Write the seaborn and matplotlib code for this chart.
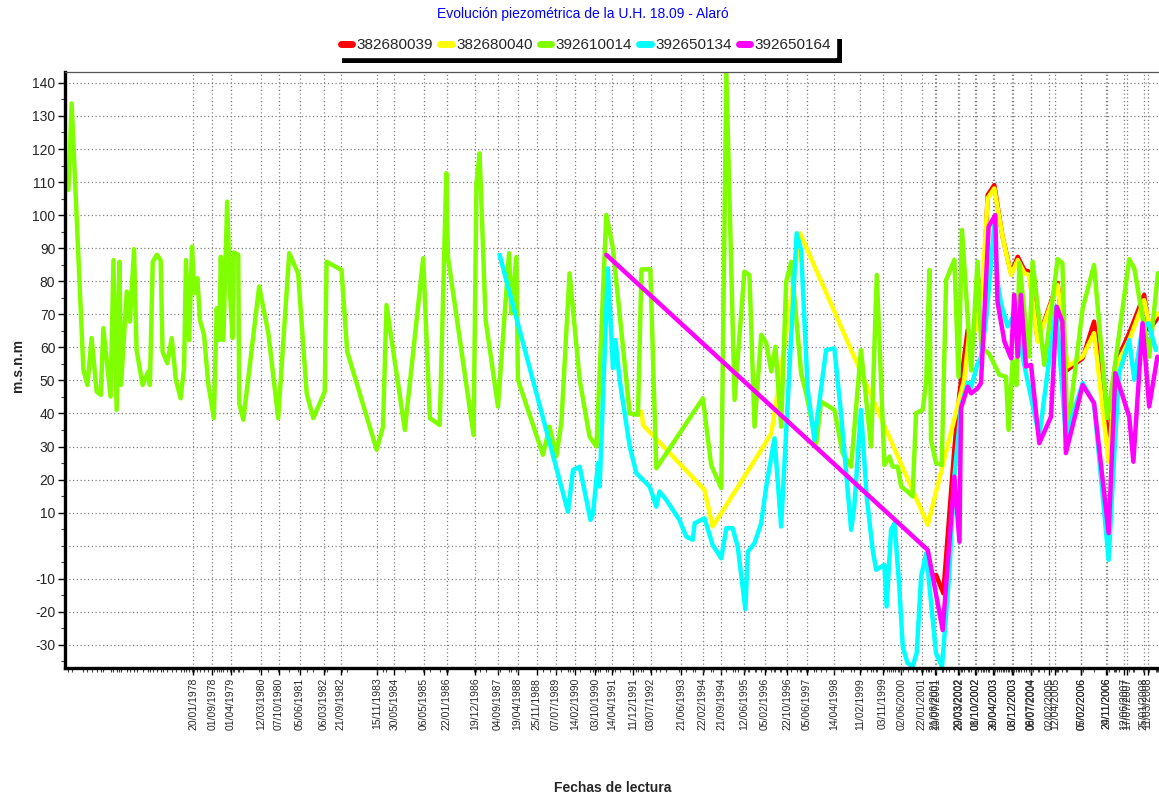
import datetime
import numpy as np
import pandas as pd
import matplotlib
matplotlib.use("Agg")
import matplotlib.pyplot as plt
import seaborn as sns
from matplotlib.lines import Line2D
from matplotlib.patches import Rectangle
from matplotlib.ticker import FixedLocator, MultipleLocator
from matplotlib.transforms import IdentityTransform

sns.set_style("white")
plt.rcParams['font.family'] = ['Liberation Sans', 'DejaVu Sans']

# ---------------- data (decimal year, m.s.n.m) ----------------
names = ["382680039", "382680040", "392610014", "392650134", "392650164"]
colors = ["#FF0000", "#FFFF00", "#80FF00", "#00FFFF", "#FF00FF"]

x_382680039 = [2001.51, 2001.74, 2002.09, 2002.25, 2002.40, 2002.51, 2002.62, 2002.77, 2002.93, 2003.03,
               2003.14, 2003.35, 2003.61, 2003.88, 2004.09, 2004.30, 2004.45, 2004.72, 2005.35, 2005.66,
               2006.14, 2006.50, 2006.96, 2007.17, 2007.61, 2008.08, 2008.24, 2008.50]
y_382680039 = [-8.8, -14.4, 29.5, 46, 57.2, 65.3, 63.8, 65.8, 78.4, 82.4,
               106.1, 109.1, 93.5, 82.4, 87.4, 83.4, 82.9, 62.2, 79.5, 53.2,
               56.7, 67.8, 30, 55, 64.3, 75.9, 65.3, 68.8]

x_382680040 = [1992.21, 1992.26, 1994.20, 1994.46, 1995.83, 1996.31, 1996.57, 1997.22, 2001.25, 2002.40,
               2002.56, 2002.77, 2002.98, 2003.14, 2003.35, 2003.61, 2003.88, 2004.09, 2004.30, 2004.45,
               2004.72, 2005.35, 2005.66, 2006.14, 2006.50, 2006.96, 2007.19, 2007.61, 2008.08, 2008.24,
               2008.50]
y_382680040 = [40.6, 36.5, 16.9, 5.8, 26.5, 34, 50, 94.5, 6.3, 50.2,
               64.3, 65.3, 79.4, 105.1, 108.1, 93.5, 81.9, 86.4, 82.4, 81.9,
               61.7, 78.9, 54.2, 57.2, 64.3, 25.4, 54.2, 62.2, 74.3, 66.8,
               70.3]

x_392610014 = [1974.12, 1974.22, 1974.59, 1974.72, 1974.85, 1975.01, 1975.14, 1975.22, 1975.45, 1975.54,
               1975.64, 1975.73, 1975.78, 1975.96, 1976.06, 1976.19, 1976.27, 1976.46, 1976.64, 1976.69,
               1976.78, 1976.91, 1977.03, 1977.09, 1977.24, 1977.38, 1977.51, 1977.66, 1977.77, 1977.83,
               1977.93, 1978.02, 1978.09, 1978.19, 1978.27, 1978.40, 1978.53, 1978.71, 1978.80, 1978.88,
               1978.93, 1979.01, 1979.13, 1979.22, 1979.30, 1979.34, 1979.48, 1979.51, 1979.64, 1980.14,
               1980.43, 1980.74, 1981.09, 1981.37, 1981.64, 1981.85, 1982.21, 1982.27, 1982.74, 1982.92,
               1983.85, 1984.05, 1984.16, 1984.74, 1985.32, 1985.53, 1985.84, 1986.05, 1986.10, 1986.91,
               1987.00, 1987.10, 1987.29, 1987.68, 1988.03, 1988.10, 1988.26, 1988.31, 1989.10, 1989.31,
               1989.52, 1989.68, 1989.94, 1990.26, 1990.57, 1990.79, 1991.10, 1991.31, 1991.84, 1992.10,
               1992.21, 1992.49, 1992.68, 1994.15, 1994.41, 1994.73, 1994.89, 1995.15, 1995.46, 1995.62,
               1995.78, 1995.99, 1996.15, 1996.31, 1996.44, 1996.62, 1996.78, 1996.94, 1997.25, 1997.41,
               1997.73, 1997.88, 1998.30, 1998.56, 1998.83, 1999.14, 1999.46, 1999.64, 1999.88, 2000.04,
               2000.14, 2000.30, 2000.41, 2000.61, 2000.77, 2000.88, 2001.09, 2001.20, 2001.30, 2001.35,
               2001.51, 2001.69, 2001.83, 2002.09, 2002.22, 2002.33, 2002.62, 2002.82, 2002.94, 2003.19,
               2003.51, 2003.72, 2003.80, 2003.93, 2004.05, 2004.14, 2004.45, 2004.56, 2004.93, 2005.35,
               2005.50, 2005.66, 2006.14, 2006.50, 2006.92, 2007.14, 2007.61, 2007.77, 2008.24, 2008.45,
               2008.52]
y_392610014 = [107.6, 133.8, 53.2, 48.6, 62.8, 46.6, 45.6, 65.8, 45.1, 86.4,
               41.1, 85.9, 48.6, 76.9, 67.8, 89.7, 59.2, 48.6, 52.7, 48.6,
               85.9, 88.0, 86.4, 58.7, 55.2, 62.8, 50.2, 44.6, 53.7, 86.4,
               62.2, 90.5, 76.4, 80.9, 68.3, 63.8, 49.2, 38.6, 71.8, 62.2,
               87.4, 62.2, 104.1, 76.4, 62.8, 88.7, 88.0, 43.1, 38.1, 78.4,
               64.3, 38.6, 88.5, 82.4, 46.1, 38.6, 46.6, 85.9, 83.4, 58.7,
               29.0, 36.0, 72.8, 35.0, 87.0, 38.6, 36.5, 112.7, 87.4, 33.5,
               109.6, 118.7, 68.3, 42.1, 88.5, 70.3, 87.3, 50.2, 27.5, 36.0,
               27.0, 37.0, 82.4, 50.2, 33.0, 30.0, 100.1, 90.0, 40.0, 39.6,
               83.6, 83.6, 23.4, 44.6, 24.4, 17.4, 143.0, 44.1, 82.9, 81.9,
               36.0, 63.8, 61.3, 52.7, 60.2, 36.0, 79.9, 85.9, 52.2, 46.1,
               31.0, 43.6, 41.1, 28.0, 23.9, 59.2, 30.0, 81.9, 24.4, 27.0,
               23.9, 23.9, 17.9, 16.4, 14.9, 40.1, 41.1, 49.6, 83.4, 32.0,
               25.0, 24.4, 80.4, 86.5, 51.1, 95.5, 53.0, 85.9, 60.0, 58.0,
               51.7, 51.1, 35.0, 56.0, 48.6, 85.5, 57.2, 85.9, 54.7, 86.7,
               85.5, 34.0, 71.8, 84.9, 38.6, 53.2, 86.7, 83.9, 57.2, 76.4,
               82.5]

x_392650134 = [1987.73, 1989.89, 1990.05, 1990.26, 1990.60, 1990.68, 1990.84, 1990.89, 1991.15, 1991.31,
               1991.39, 1991.52, 1991.84, 1992.05, 1992.26, 1992.47, 1992.68, 1992.78, 1992.99, 1993.41,
               1993.62, 1993.83, 1993.89, 1994.20, 1994.46, 1994.73, 1994.89, 1995.09, 1995.25, 1995.49,
               1995.57, 1995.78, 1995.99, 1996.15, 1996.41, 1996.62, 1997.11, 1997.25, 1997.46, 1997.67,
               1998.04, 1998.30, 1998.51, 1998.83, 1998.93, 1999.14, 1999.32, 1999.51, 1999.62, 1999.88,
               1999.95, 2000.09, 2000.20, 2000.35, 2000.46, 2000.61, 2000.77, 2000.90, 2001.04, 2001.20,
               2001.51, 2001.70, 2001.93, 2002.09, 2002.30, 2002.51, 2002.62, 2002.82, 2002.93, 2003.09,
               2003.35, 2003.45, 2003.56, 2003.77, 2003.98, 2004.35, 2004.77, 2005.30, 2005.61, 2006.14,
               2006.50, 2006.96, 2007.14, 2007.29, 2007.61, 2007.77, 2008.03, 2008.22, 2008.45]
y_392650134 = [88, 10.3, 22.9, 23.9, 7.8, 9.8, 25, 17.9, 83.9, 53.7,
               62.2, 50.2, 30, 21.9, 19.9, 17.9, 11.8, 16.4, 13.9, 7.8,
               2.8, 1.8, 6.8, 8.3, 0.2, -3.8, 5.3, 5.3, -0.3, -19.2,
               -1.8, 0.8, 6.8, 17.9, 32.5, 5.8, 94.5, 89.5, 47.1, 32,
               59.2, 59.7, 40.1, 4.8, 11.8, 41.1, 14.9, -1.3, -7.3, -5.8,
               -18.4, 4.8, 6.8, -12.4, -30.5, -35.5, -36.6, -32.5, -9.3, -2.3,
               -32.5, -36.6, -8.3, 20.9, 42.1, 49.3, 48, 55, 57, 68.3,
               97, 80, 73.4, 66.3, 70, 52.2, 33, 72.3, 33, 49.2,
               43.1, -4.3, 28, 52.2, 62.2, 50.2, 66.3, 67.3, 59.2]

x_392650164 = [1991.10, 2001.25, 2001.72, 2002.09, 2002.25, 2002.30, 2002.51, 2002.62, 2002.82, 2002.93,
               2003.17, 2003.38, 2003.45, 2003.67, 2003.88, 2003.98, 2004.09, 2004.19, 2004.35, 2004.51,
               2004.77, 2005.14, 2005.32, 2005.50, 2005.61, 2006.14, 2006.50, 2006.96, 2007.17, 2007.61,
               2007.74, 2008.03, 2008.24, 2008.50]
y_392650164 = [88, -1.3, -25.5, 20.9, 1.2, 41.6, 48.1, 46.1, 47.6, 49.2,
               96.5, 100, 73.8, 61.7, 56.7, 75.9, 57.2, 75.9, 54.2, 54.7,
               31, 39, 72.3, 67.8, 28, 48.6, 43.1, 3.8, 52.2, 39,
               25.4, 67.3, 42.1, 57.2]

tick_labels = ["20/01/1978", "01/09/1978", "01/04/1979", "12/03/1980", "07/10/1980", "05/06/1981",
               "06/03/1982", "21/09/1982", "15/11/1983", "30/05/1984", "06/05/1985", "22/01/1986",
               "19/12/1986", "04/09/1987", "19/04/1988", "25/11/1988", "07/07/1989", "14/02/1990",
               "03/10/1990", "14/04/1991", "11/12/1991", "03/07/1992", "21/06/1993", "22/02/1994",
               "21/09/1994", "12/06/1995", "05/02/1996", "22/10/1996", "05/06/1997", "14/04/1998",
               "11/02/1999", "03/11/1999", "02/06/2000", "22/01/2001", "10/07/2001", "21/06/2001",
               "29/03/2002", "20/03/2002", "08/10/2002", "01/10/2002", "29/04/2003", "30/04/2003",
               "08/12/2003", "03/12/2003", "06/07/2004", "08/07/2004", "02/02/2005", "12/04/2005",
               "05/02/2006", "07/02/2006", "20/11/2006", "24/11/2006", "12/06/2007", "17/07/2007",
               "25/01/2008", "11/03/2008"]
y_tick_values = [-30, -20, -10, 10, 20, 30, 40, 50, 60, 70, 80, 90, 100, 110, 120, 130, 140]

title = "Evolución piezométrica de la U.H. 18.09 - Alaró"
ylabel = "m.s.n.m"
xlabel = "Fechas de lectura"


def to_year(s):
    d = datetime.datetime.strptime(s, "%d/%m/%Y")
    return d.year + (d - datetime.datetime(d.year, 1, 1)).days / 365.25


series_x = [x_382680039, x_382680040, x_392610014, x_392650134, x_392650164]
series_y = [y_382680039, y_382680040, y_392610014, y_392650134, y_392650164]
frames = [pd.DataFrame({"fecha": xs, "cota": ys, "punto": n})
          for xs, ys, n in zip(series_x, series_y, names)]
df = pd.concat(frames, ignore_index=True)

W, H = 1159, 798
fig = plt.figure(figsize=(W / 100, H / 100), dpi=100)
L, R, T, B = 65, 1159, 72, 668
ax = fig.add_axes([L / W, 1 - B / H, (R - L) / W, (B - T) / H])

sns.lineplot(data=df, x="fecha", y="cota", hue="punto", hue_order=names,
             palette=dict(zip(names, colors)), estimator=None, sort=False,
             linewidth=3.2, legend=False, ax=ax)

ax.set_xlim(1974.01, 2008.55)
ax.set_ylim(-37, 143.3)

# ticks
tick_pos = [to_year(s) for s in tick_labels]
ax.xaxis.set_major_locator(FixedLocator(tick_pos))
ax.set_xticklabels(tick_labels, rotation=90, fontsize=7.5, va="top", ha="center")
all_dates = sorted(set(np.concatenate([np.array(v) for v in series_x]).round(2)))
ax.xaxis.set_minor_locator(FixedLocator(all_dates))
ax.yaxis.set_major_locator(FixedLocator(y_tick_values))
ax.set_yticklabels([str(v) for v in y_tick_values], fontsize=10)
ax.yaxis.set_minor_locator(MultipleLocator(5))
ax.tick_params(axis="both", which="major", direction="out", length=5, width=1, color="black",
               left=True, bottom=True, pad=2)
ax.tick_params(axis="both", which="minor", direction="out", length=3, width=0.8, color="#444444",
               left=True, bottom=True)

# grid
ax.grid(True, which="major", linestyle=(0, (1, 2)), color="#808080", linewidth=0.9)
ax.axhline(0, linestyle=(0, (1, 2)), color="#808080", linewidth=0.9, zorder=0.5)
ax.set_axisbelow(True)

for side in ["left", "bottom"]:
    ax.spines[side].set_color("black")
    ax.spines[side].set_linewidth(2.4)
ax.spines["top"].set_color("#555555")
ax.spines["top"].set_linewidth(0.9)
ax.spines["right"].set_visible(False)

ax.set_xlabel("")
ax.set_ylabel("")
fig.text(18 / W, 1 - 365 / H, ylabel, rotation=90, ha="center", va="center",
         fontsize=10, fontweight="bold")
fig.text(613 / W, 1 - 788 / H, xlabel, ha="center", va="center", fontsize=10, fontweight="bold")
fig.text(583 / W, 1 - 14 / H, title, ha="center", va="center", fontsize=10, color="#0000FF")

# legend
handles = [Line2D([0], [0], color=c, linewidth=5, solid_capstyle="round") for c in colors]
leg = fig.legend(handles, names, loc="center", bbox_to_anchor=(586 / W, 1 - 45 / H), ncol=5,
                 frameon=True, fancybox=False, edgecolor="white", facecolor="white", framealpha=1,
                 fontsize=11, handlelength=0.75, handletextpad=0.3, columnspacing=0.45,
                 borderpad=0.3, borderaxespad=0)
fig.canvas.draw()
bb = leg.get_window_extent()
shadow = Rectangle((bb.x0 + 6, bb.y0 - 6), bb.width, bb.height, transform=IdentityTransform(),
                   facecolor="black", edgecolor="none", zorder=4)
fig.add_artist(shadow)

fig.savefig("out.png", dpi=100)
